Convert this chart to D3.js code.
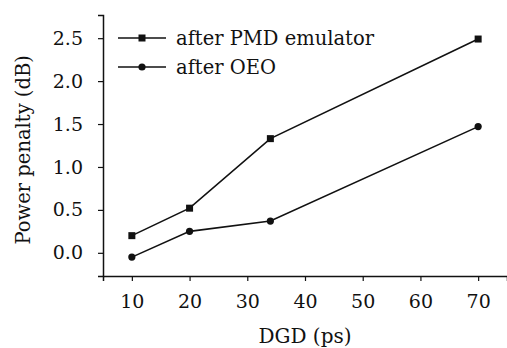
<!DOCTYPE html>
<html>
<head>
<meta charset="utf-8">
<script src="https://cdn.jsdelivr.net/npm/d3@7"></script>
<style>
  body { margin: 0; background: #fff; }
  svg text { font-family: "DejaVu Serif", serif; fill: #111; }
</style>
</head>
<body>
<div id="chart"></div>
<script>
// values
var dgd = [10, 20, 34, 70];
var afterPMD = [0.20, 0.52, 1.33, 2.49];
var afterOEO = [-0.05, 0.25, 0.37, 1.47];
var seriesNames = ["after PMD emulator", "after OEO"];
var xTicks = [10, 20, 30, 40, 50, 60, 70];
var yTicks = [0.0, 0.5, 1.0, 1.5, 2.0, 2.5];

var width = 507, height = 348;
var margin = { left: 103, top: 15, right: 0, bottom: 72 };

var svg = d3.select("#chart")
    .append("svg")
    .attr("width", width)
    .attr("height", height);

var x = d3.scaleLinear().domain([5, 75]).range([margin.left, width - margin.right]);
var y = d3.scaleLinear().domain([-0.27, 2.77]).range([height - margin.bottom, margin.top]);

// minor ticks
var xMinor = d3.range(5, 76, 5);
var yMinor = d3.range(-0.25, 2.76, 0.25);

var xAxis = svg.append("g")
    .attr("transform", "translate(0," + (height - margin.bottom) + ")");
xAxis.call(d3.axisBottom(x).tickValues(xMinor).tickSize(3).tickFormat(""));
xAxis.call(d3.axisBottom(x).tickValues(xTicks).tickSize(5).tickFormat(d3.format("d")).tickPadding(14));
xAxis.selectAll("text").style("font-size", "19px");

var yAxis = svg.append("g")
    .attr("transform", "translate(" + margin.left + ",0)");
yAxis.call(d3.axisLeft(y).tickValues(yMinor).tickSize(3).tickFormat(""));
yAxis.call(d3.axisLeft(y).tickValues(yTicks).tickSize(5).tickFormat(d3.format(".1f")).tickPadding(15));
yAxis.selectAll("text").style("font-size", "19px");

svg.selectAll(".domain").attr("stroke", "#111").attr("stroke-width", 1.5);
svg.selectAll(".tick line").attr("stroke", "#111").attr("stroke-width", 1.2);

// axis titles
svg.append("text")
    .attr("x", x(40))
    .attr("y", 343)
    .attr("text-anchor", "middle")
    .style("font-size", "20px")
    .text("DGD (ps)");

svg.append("text")
    .attr("transform", "translate(30," + y(1.2) + ") rotate(-90)")
    .attr("text-anchor", "middle")
    .style("font-size", "19.5px")
    .text("Power penalty (dB)");

var line = d3.line()
    .x(function(d) { return x(d[0]); })
    .y(function(d) { return y(d[1]); });

var pmdData = dgd.map(function(d, i) { return [d, afterPMD[i]]; });
var oeoData = dgd.map(function(d, i) { return [d, afterOEO[i]]; });

svg.append("path").datum(pmdData)
    .attr("d", line).attr("fill", "none").attr("stroke", "#111").attr("stroke-width", 1.6);
svg.append("path").datum(oeoData)
    .attr("d", line).attr("fill", "none").attr("stroke", "#111").attr("stroke-width", 1.6);

svg.selectAll(".sq").data(pmdData).enter()
    .append("rect")
    .attr("x", function(d) { return x(d[0]) - 3.5; })
    .attr("y", function(d) { return y(d[1]) - 3.5; })
    .attr("width", 7).attr("height", 7)
    .attr("fill", "#111");

svg.selectAll(".dot").data(oeoData).enter()
    .append("circle")
    .attr("cx", function(d) { return x(d[0]); })
    .attr("cy", function(d) { return y(d[1]); })
    .attr("r", 3.6)
    .attr("fill", "#111");

// legend
var legend = svg.append("g");
var legY = [38, 67];
seriesNames.forEach(function(name, i) {
    var g = legend.append("g").attr("transform", "translate(0," + legY[i] + ")");
    g.append("line").attr("x1", 118).attr("x2", 166).attr("y1", 0).attr("y2", 0)
        .attr("stroke", "#111").attr("stroke-width", 1.6);
    if (i === 0) {
        g.append("rect").attr("x", 138.5).attr("y", -3.5).attr("width", 7).attr("height", 7).attr("fill", "#111");
    } else {
        g.append("circle").attr("cx", 142).attr("cy", 0).attr("r", 3.6).attr("fill", "#111");
    }
    g.append("text").attr("x", 176).attr("y", 0).attr("dy", "0.35em")
        .style("font-size", "19.5px").text(name);
});
</script>
</body>
</html>
